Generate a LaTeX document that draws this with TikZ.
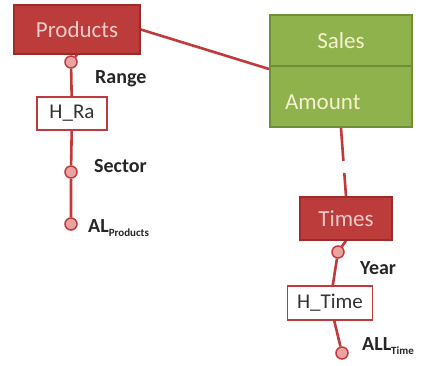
\documentclass[tikz,border=0pt]{standalone}
\usepackage{fontspec}
\setmainfont{Carlito}
\usetikzlibrary{backgrounds}
\definecolor{dimred}{HTML}{BC3B3B}
\definecolor{dimredline}{HTML}{9E2A2A}
\definecolor{linkred}{HTML}{C0393B}
\definecolor{dotpink}{HTML}{E9A3A3}
\definecolor{factgreen}{HTML}{8FB24C}
\definecolor{factline}{HTML}{6F8F35}
\definecolor{facttext}{HTML}{F6F2CF}
\definecolor{dimtext}{HTML}{EBCACA}

\begin{document}
\begin{tikzpicture}[x=1pt,y=-1pt,
	dimbox/.style={draw=dimredline, line width=1.5pt, fill=dimred, text=dimtext, font=\fontsize{23}{25}\selectfont, inner sep=0pt},
	factbox/.style={draw=factline, line width=2pt, fill=factgreen, text=facttext, font=\fontsize{23}{25}\selectfont, inner sep=0pt, minimum width=142pt},
	hierbox/.style={draw=linkred, line width=1.8pt, fill=white, text=black!80, font=\fontsize{21}{23}\selectfont, inner sep=0pt},
	levdot/.style={circle, draw=linkred, line width=1.5pt, fill=dotpink, minimum size=12pt, inner sep=0pt},
	levlabel/.style={anchor=west, font=\bfseries\fontsize{20}{22}\selectfont, text=black!85, inner sep=0pt},
	link/.style={linkred, line width=2.6pt}]
	\useasboundingbox (0,0) rectangle (434,365);
	% dimension Products
	\node[dimbox, minimum width=126pt, minimum height=49pt] (products) at (77,29.5) {Products};
	\node[levdot] (range) at (71,62) {};
	\node[hierbox, minimum width=70pt, minimum height=33pt] (hra) at (72,113.5) {H\_Ra};
	\node[levdot] (sector) at (71,172) {};
	\node[levdot] (allprod) at (71,224) {};
	\node[levlabel] at (95,79) {Range};
	\node[levlabel] at (94,166) {Sector};
	\node[levlabel] at (88,228) {AL\raisebox{-4pt}{\fontsize{11}{12}\selectfont Products}};
	% fact Sales
	\node[factbox, minimum height=51pt] (sales) at (341,40.5) {Sales};
	\node[factbox, minimum height=61pt, text width=112pt, align=left, text height=28pt, text depth=2pt] (amount) at (341,96.5) {Amount};
	% dimension Times
	\node[dimbox, minimum width=92pt, minimum height=43pt] (times) at (346,218.5) {Times};
	\node[levdot] (year) at (338,252) {};
	\node[hierbox, minimum width=85pt, minimum height=34pt] (htime) at (330,303) {H\_Time};
	\node[levdot] (alltime) at (342,353) {};
	\node[levlabel] at (360,268) {Year};
	\node[levlabel] at (362,346) {ALL\raisebox{-4pt}{\fontsize{11}{12}\selectfont Time}};
	% connectors
	\begin{scope}[on background layer]
	\draw[link] (products.east) -- ([yshift=-4pt]amount.north west);
	\draw[link, dash pattern=on 33pt off 12pt] (amount.south) -- (times.north);
	\draw[link] (products.south) -- (range) -- (hra) -- (sector) -- (allprod);
	\draw[link] (times.south) -- (year) -- (htime) -- (alltime);
	\end{scope}
\end{tikzpicture}
\end{document}
